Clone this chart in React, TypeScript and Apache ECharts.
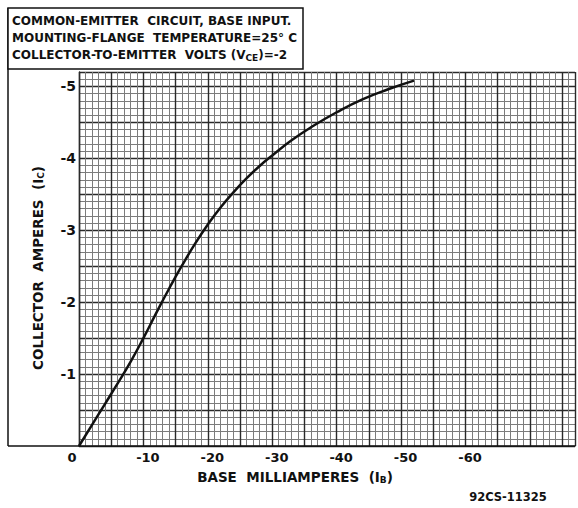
import React, { useEffect, useRef } from "react";
import * as echarts from "echarts";

// Base current (mA) and collector current (A), both negative as in the original chart
const baseMilliamperes = [0, -2, -4, -6, -8, -10, -12, -14, -16, -18, -20, -22, -24, -26, -28, -30, -33, -36, -40, -44, -48, -52];
const collectorAmperes = [0, -0.29, -0.58, -0.87, -1.17, -1.5, -1.85, -2.19, -2.51, -2.81, -3.08, -3.32, -3.53, -3.72, -3.89, -4.04, -4.25, -4.43, -4.64, -4.82, -4.96, -5.08];

const xTickLabels = ["0", "-10", "-20", "-30", "-40", "-50", "-60"];
const yTickLabels = ["-1", "-2", "-3", "-4", "-5"];

const titleLines = [
  "COMMON-EMITTER  CIRCUIT, BASE INPUT.",
  "MOUNTING-FLANGE  TEMPERATURE=25° C",
  "COLLECTOR-TO-EMITTER  VOLTS (V{sub|CE})=-2",
];
const xAxisName = "BASE  MILLIAMPERES  (I{sub|B})";
const yAxisName = "COLLECTOR  AMPERES  (I{sub|C})";
const figureCode = "92CS-11325";

const X_MAX = 77;
const Y_MAX = 5.2;

const FONT = "DejaVu Sans";
const INK = "#111";

export default function App() {
  const ref = useRef<HTMLDivElement>(null);

  useEffect(() => {
    if (!ref.current) return;
    const chart = echarts.init(ref.current, undefined, { renderer: "svg" });
    const data = baseMilliamperes.map((x, i) => [-x, -collectorAmperes[i]]);
    const sub = { fontSize: 9, fontWeight: "bold", verticalAlign: "bottom", padding: [6, 0, 0, 0], fontFamily: FONT, fill: INK } as any;

    const option: any = {
      animation: false,
      backgroundColor: "#fff",
      grid: { left: 79, right: 2, top: 72, bottom: 62, containLabel: false },
      xAxis: [
        {
          type: "value", min: 0, max: X_MAX, interval: 1, position: "bottom",
          axisLine: { show: false }, axisTick: { show: false }, axisLabel: { show: false },
          splitLine: { show: true, lineStyle: { color: "#7c7c7c", width: 1 } },
        },
        {
          type: "value", min: 0, max: X_MAX, interval: 5, position: "bottom",
          axisLine: { show: true, lineStyle: { color: INK, width: 1.5 } },
          axisTick: { show: false },
          axisLabel: {
            show: true, margin: 5, color: INK, fontSize: 13, fontWeight: "bold", fontFamily: FONT,
            formatter: (v: number) => {
              const i = Math.round(v / 10);
              if (Math.abs(v - i * 10) < 1e-6 && i < xTickLabels.length) {
                return i === 0 ? "{z|" + xTickLabels[i] + "}" : "{n|" + xTickLabels[i] + "}";
              }
              return "";
            },
            rich: {
              z: { fontSize: 13, fontWeight: "bold", fontFamily: FONT, color: INK, padding: [0, 14, 0, 0] },
              n: { fontSize: 13, fontWeight: "bold", fontFamily: FONT, color: INK, padding: [0, 0, 0, 9] },
            },
          },
          splitLine: { show: true, lineStyle: { color: "#2a2a2a", width: 1.4 } },
        },
      ],
      yAxis: [
        {
          type: "value", min: 0, max: Y_MAX, interval: 0.1, position: "left",
          axisLine: { show: false }, axisTick: { show: false }, axisLabel: { show: false },
          splitLine: { show: true, lineStyle: { color: "#7c7c7c", width: 1 } },
        },
        {
          type: "value", min: 0, max: Y_MAX, interval: 0.5, position: "left",
          axisLine: { show: true, lineStyle: { color: "#2a2a2a", width: 1.4 } },
          axisTick: { show: false },
          axisLabel: {
            show: true, margin: 3, color: INK, fontSize: 14, fontWeight: "bold", fontFamily: FONT,
            formatter: (v: number) => {
              const r = Math.round(v);
              if (Math.abs(v - r) < 1e-6 && r >= 1 && r <= yTickLabels.length) return yTickLabels[r - 1];
              return "";
            },
          },
          splitLine: { show: true, lineStyle: { color: "#2a2a2a", width: 1.4 } },
        },
      ],
      series: [
        {
          type: "line", xAxisIndex: 1, yAxisIndex: 1, data, smooth: true, symbol: "none",
          lineStyle: { color: INK, width: 2.5 }, z: 5,
        },
      ],
      graphic: [
        { type: "line", shape: { x1: 8, y1: 8, x2: 8, y2: 446 }, style: { stroke: INK, lineWidth: 1.5 }, z: 10 },
        { type: "line", shape: { x1: 8, y1: 446, x2: 79, y2: 446 }, style: { stroke: INK, lineWidth: 1.5 }, z: 10 },
        { type: "rect", shape: { x: 8, y: 8, width: 295, height: 61 }, style: { fill: "#fff", stroke: INK, lineWidth: 1.5 }, z: 10 },
        ...titleLines.map((t, i) => ({
          type: "text", x: 12, y: 21 + i * 17, z: 11,
          style: { text: t, fontSize: 12, fontWeight: "bold", fontFamily: FONT, fill: INK, textVerticalAlign: "middle", rich: { sub } },
        })),
        {
          type: "text", x: 295, y: 477, z: 11,
          style: { text: xAxisName, fontSize: 13.5, fontWeight: "bold", fontFamily: FONT, fill: INK, textAlign: "center", textVerticalAlign: "middle", rich: { sub } },
        },
        {
          type: "text", x: 38, y: 268, rotation: Math.PI / 2, z: 11,
          style: { text: yAxisName, fontSize: 13.5, fontWeight: "bold", fontFamily: FONT, fill: INK, textAlign: "center", textVerticalAlign: "middle", rich: { sub } },
        },
        {
          type: "text", x: 508, y: 497, z: 11,
          style: { text: figureCode, fontSize: 11.5, fontWeight: "bold", fontFamily: FONT, fill: INK, textAlign: "center", textVerticalAlign: "middle" },
        },
      ],
    };
    chart.setOption(option);
    return () => chart.dispose();
  }, []);

  return (
    <div
      ref={ref}
      style={{ position: "absolute", left: 0, top: 0, width: 578, height: 508, background: "#fff" }}
    />
  );
}
